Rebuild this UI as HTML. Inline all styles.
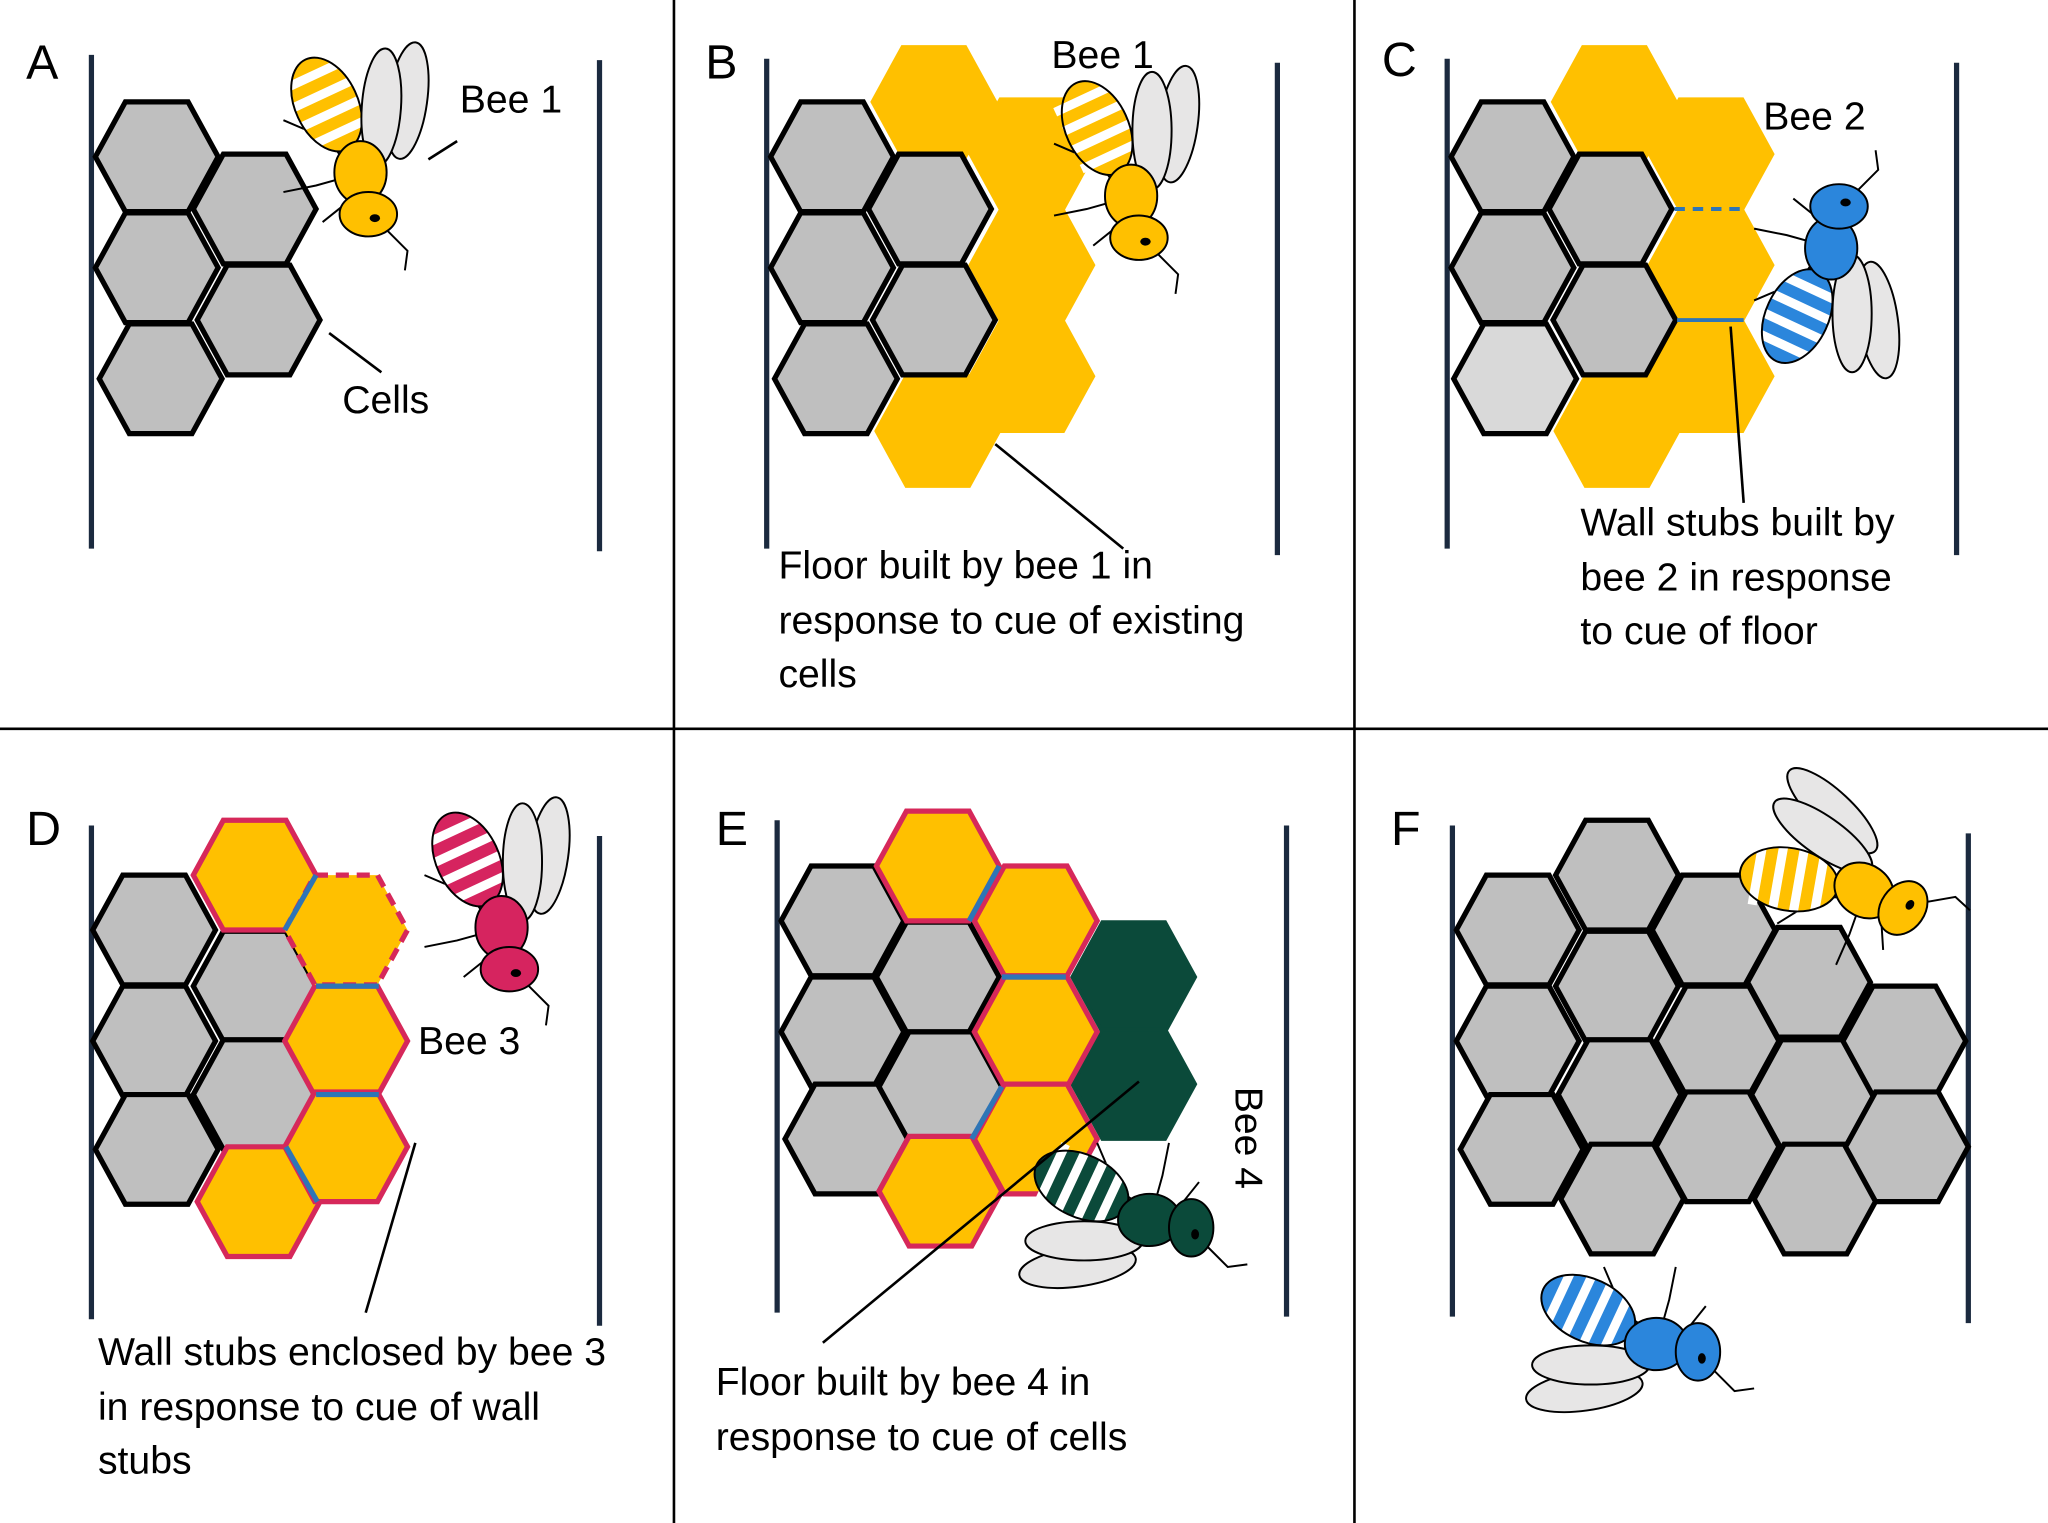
<!DOCTYPE html>
<html><head><style>html,body{margin:0;padding:0;background:#fff}svg{display:block}text{font-family:"Liberation Sans",sans-serif;fill:#000}</style></head>
<body>
<svg width="2048" height="1523" viewBox="0 0 1568 1166" xmlns="http://www.w3.org/2000/svg">
<defs>
<polygon id="h" points="-47,0 -24,-42 24,-42 47,0 24,42 -24,42"/>
<g id="legs" fill="none" stroke="#000" stroke-width="1.5">
<path d="M-8,-8 L-20,-25 L-55,-40"/><path d="M-12,5 L-30,10 L-55,15"/><path d="M-5,22 L-25,38"/><path d="M25,45 L40,60 L38,75"/>
</g>
<g id="stripes"><rect x="-46" y="-80" width="48" height="7" fill="#fff"/><rect x="-46" y="-64" width="48" height="7" fill="#fff"/><rect x="-46" y="-48" width="48" height="7" fill="#fff"/><rect x="-46" y="-32" width="48" height="7" fill="#fff"/></g>
</defs>
<rect width="1568" height="1166" fill="#fff"/>
<g stroke="#000" stroke-width="2">
<line x1="0" y1="558" x2="1568" y2="558"/>
<line x1="516" y1="0" x2="516" y2="1166"/>
<line x1="1037" y1="0" x2="1037" y2="1166"/>
</g>
<g stroke="#1b2a3f" stroke-width="4">
<line x1="70" y1="42" x2="70" y2="420"/><line x1="459" y1="46" x2="459" y2="422"/>
<line x1="587" y1="45" x2="587" y2="420"/><line x1="978" y1="48" x2="978" y2="425"/>
<line x1="1108" y1="45" x2="1108" y2="420"/><line x1="1498" y1="48" x2="1498" y2="425"/>
<line x1="70" y1="632" x2="70" y2="1010"/><line x1="459" y1="640" x2="459" y2="1015"/>
<line x1="595" y1="628" x2="595" y2="1005"/><line x1="985" y1="632" x2="985" y2="1008"/>
<line x1="1112" y1="632" x2="1112" y2="1008"/><line x1="1507" y1="638" x2="1507" y2="1013"/>
</g>
<!-- A -->
<g fill="#bfbfbf" stroke="#000" stroke-width="4">
<use href="#h" x="120" y="120"/><use href="#h" x="120" y="205"/><use href="#h" x="123" y="290"/>
<use href="#h" x="195" y="160"/><use href="#h" x="198" y="245"/>
</g>
<!-- B -->
<g fill="#ffc000" stroke="#ffc000" stroke-width="3">
<use href="#h" x="715" y="78"/><use href="#h" x="718" y="330"/>
<use href="#h" x="790" y="118"/><use href="#h" x="790" y="203"/><use href="#h" x="790" y="288"/>
</g>
<g fill="#bfbfbf" stroke="#000" stroke-width="4">
<use href="#h" x="637" y="120"/><use href="#h" x="637" y="205"/><use href="#h" x="640" y="290"/>
<use href="#h" x="712" y="160"/><use href="#h" x="715" y="245"/>
</g>
<!-- C -->
<g fill="#ffc000" stroke="#ffc000" stroke-width="3">
<use href="#h" x="1236" y="78"/><use href="#h" x="1238" y="330"/>
<use href="#h" x="1310" y="118"/><use href="#h" x="1310" y="203"/><use href="#h" x="1310" y="288"/>
</g>
<g fill="#bfbfbf" stroke="#000" stroke-width="4">
<use href="#h" x="1158" y="120"/><use href="#h" x="1158" y="205"/><use href="#h" x="1160" y="290" fill="#d9d9d9"/>
<use href="#h" x="1233" y="160"/><use href="#h" x="1236" y="245"/>
</g>
<line x1="1282" y1="160" x2="1335" y2="160" stroke="#2e75b6" stroke-width="3" stroke-dasharray="8,6"/>
<line x1="1284" y1="245" x2="1335" y2="245" stroke="#2e75b6" stroke-width="3"/>
<!-- D -->
<g fill="#bfbfbf" stroke="#000" stroke-width="4">
<use href="#h" x="118" y="712"/><use href="#h" x="118" y="797"/><use href="#h" x="120" y="880"/>
<use href="#h" x="195" y="755"/><use href="#h" x="195" y="838"/>
</g>
<g fill="#ffc000" stroke="#d6285a" stroke-width="4">
<use href="#h" x="195" y="670"/><use href="#h" x="198" y="920"/>
<use href="#h" x="265" y="797"/><use href="#h" x="265" y="878"/>
<use href="#h" x="265" y="712" stroke-dasharray="10,6"/>
</g>
<g stroke="#2e75b6" stroke-width="4">
<line x1="242" y1="670" x2="218" y2="712"/><line x1="242" y1="755" x2="290" y2="755"/><line x1="242" y1="838" x2="290" y2="838"/><line x1="219" y1="878" x2="243" y2="920"/>
</g>
<!-- E -->
<g fill="#0b4a3a" stroke="#0b4a3a" stroke-width="3"><use href="#h" x="868" y="748"/><use href="#h" x="868" y="830"/></g>
<g fill="#bfbfbf" stroke="#000" stroke-width="4">
<use href="#h" x="645" y="705"/><use href="#h" x="645" y="790"/><use href="#h" x="648" y="872"/>
<use href="#h" x="718" y="748"/><use href="#h" x="720" y="832"/>
</g>
<g fill="#ffc000" stroke="#d6285a" stroke-width="4">
<use href="#h" x="718" y="663"/><use href="#h" x="720" y="912"/>
<use href="#h" x="793" y="705"/><use href="#h" x="793" y="790"/><use href="#h" x="793" y="872"/>
</g>
<g stroke="#2e75b6" stroke-width="4">
<line x1="765" y1="663" x2="742" y2="705"/><line x1="767" y1="748" x2="816" y2="748"/><line x1="767" y1="832" x2="744" y2="872"/>
</g>
<!-- F -->
<g fill="#bfbfbf" stroke="#000" stroke-width="4">
<use href="#h" x="1162" y="712"/><use href="#h" x="1162" y="797"/><use href="#h" x="1165" y="880"/>
<use href="#h" x="1238" y="670"/><use href="#h" x="1238" y="755"/><use href="#h" x="1240" y="838"/><use href="#h" x="1242" y="918"/>
<use href="#h" x="1312" y="712"/><use href="#h" x="1315" y="797"/><use href="#h" x="1315" y="878"/>
<use href="#h" x="1385" y="752"/><use href="#h" x="1388" y="838"/><use href="#h" x="1390" y="918"/>
<use href="#h" x="1458" y="797"/><use href="#h" x="1460" y="878"/>
</g>

<!-- bees -->
<g transform="translate(272,132)">
<use href="#legs"/>
<ellipse cx="40" cy="-55" rx="15" ry="45" fill="#e7e6e6" stroke="#000" stroke-width="1.5" transform="rotate(8 40 -55)"/>
<g transform="rotate(-25 -22 -52)"><ellipse cx="-22" cy="-52" rx="24" ry="38" fill="#ffc000"/><use href="#stripes"/>
<ellipse cx="-22" cy="-52" rx="24" ry="38" fill="none" stroke="#000" stroke-width="1.5"/></g>
<ellipse cx="20" cy="-50" rx="15" ry="45" fill="#e7e6e6" stroke="#000" stroke-width="1.5" transform="rotate(4 20 -50)"/>
<ellipse cx="4" cy="0" rx="20" ry="24" fill="#ffc000" stroke="#000" stroke-width="1.5"/>
<ellipse cx="10" cy="32" rx="22" ry="17" fill="#ffc000" stroke="#000" stroke-width="1.5"/>
<ellipse cx="15" cy="35" rx="4" ry="3" fill="#000"/>
</g>
<g transform="translate(862,150)">
<use href="#legs"/>
<ellipse cx="40" cy="-55" rx="15" ry="45" fill="#e7e6e6" stroke="#000" stroke-width="1.5" transform="rotate(8 40 -55)"/>
<g transform="rotate(-25 -22 -52)"><ellipse cx="-22" cy="-52" rx="24" ry="38" fill="#ffc000"/><use href="#stripes"/>
<ellipse cx="-22" cy="-52" rx="24" ry="38" fill="none" stroke="#000" stroke-width="1.5"/></g>
<ellipse cx="20" cy="-50" rx="15" ry="45" fill="#e7e6e6" stroke="#000" stroke-width="1.5"/>
<ellipse cx="4" cy="0" rx="20" ry="24" fill="#ffc000" stroke="#000" stroke-width="1.5"/>
<ellipse cx="10" cy="32" rx="22" ry="17" fill="#ffc000" stroke="#000" stroke-width="1.5"/>
<ellipse cx="15" cy="35" rx="4" ry="3" fill="#000"/>
</g>
<g transform="translate(1398,190) scale(1,-1)">
<use href="#legs"/>
<ellipse cx="40" cy="-55" rx="15" ry="45" fill="#e7e6e6" stroke="#000" stroke-width="1.5" transform="rotate(8 40 -55)"/>
<g transform="rotate(-25 -22 -52)"><ellipse cx="-22" cy="-52" rx="24" ry="38" fill="#2b86dc"/><use href="#stripes"/>
<ellipse cx="-22" cy="-52" rx="24" ry="38" fill="none" stroke="#000" stroke-width="1.5"/></g>
<ellipse cx="20" cy="-50" rx="15" ry="45" fill="#e7e6e6" stroke="#000" stroke-width="1.5"/>
<ellipse cx="4" cy="0" rx="20" ry="24" fill="#2b86dc" stroke="#000" stroke-width="1.5"/>
<ellipse cx="10" cy="32" rx="22" ry="17" fill="#2b86dc" stroke="#000" stroke-width="1.5"/>
<ellipse cx="15" cy="35" rx="4" ry="3" fill="#000"/>
</g>
<g transform="translate(380,710)">
<use href="#legs"/>
<ellipse cx="40" cy="-55" rx="15" ry="45" fill="#e7e6e6" stroke="#000" stroke-width="1.5" transform="rotate(8 40 -55)"/>
<g transform="rotate(-25 -22 -52)"><ellipse cx="-22" cy="-52" rx="24" ry="38" fill="#d6245f"/><use href="#stripes"/>
<ellipse cx="-22" cy="-52" rx="24" ry="38" fill="none" stroke="#000" stroke-width="1.5"/></g>
<ellipse cx="20" cy="-50" rx="15" ry="45" fill="#e7e6e6" stroke="#000" stroke-width="1.5"/>
<ellipse cx="4" cy="0" rx="20" ry="24" fill="#d6245f" stroke="#000" stroke-width="1.5"/>
<ellipse cx="10" cy="32" rx="22" ry="17" fill="#d6245f" stroke="#000" stroke-width="1.5"/>
<ellipse cx="15" cy="35" rx="4" ry="3" fill="#000"/>
</g>
<g transform="translate(880,930) rotate(-90) scale(-1,1)">
<use href="#legs"/>
<ellipse cx="40" cy="-55" rx="15" ry="45" fill="#e7e6e6" stroke="#000" stroke-width="1.5" transform="rotate(8 40 -55)"/>
<g transform="rotate(-25 -22 -52)"><ellipse cx="-22" cy="-52" rx="24" ry="38" fill="#0b4a3a"/><use href="#stripes"/>
<ellipse cx="-22" cy="-52" rx="24" ry="38" fill="none" stroke="#000" stroke-width="1.5"/></g>
<ellipse cx="20" cy="-50" rx="15" ry="45" fill="#e7e6e6" stroke="#000" stroke-width="1.5"/>
<ellipse cx="4" cy="0" rx="20" ry="24" fill="#0b4a3a" stroke="#000" stroke-width="1.5"/>
<ellipse cx="10" cy="32" rx="22" ry="17" fill="#0b4a3a" stroke="#000" stroke-width="1.5"/>
<ellipse cx="15" cy="35" rx="4" ry="3" fill="#000"/>
</g>
<g transform="translate(1425,685) rotate(-55)">
<use href="#legs"/>
<ellipse cx="40" cy="-55" rx="15" ry="45" fill="#e7e6e6" stroke="#000" stroke-width="1.5" transform="rotate(8 40 -55)"/>
<g transform="rotate(-25 -22 -52)"><ellipse cx="-22" cy="-52" rx="24" ry="38" fill="#ffc000"/><use href="#stripes"/>
<ellipse cx="-22" cy="-52" rx="24" ry="38" fill="none" stroke="#000" stroke-width="1.5"/></g>
<ellipse cx="20" cy="-50" rx="15" ry="45" fill="#e7e6e6" stroke="#000" stroke-width="1.5"/>
<ellipse cx="4" cy="0" rx="20" ry="24" fill="#ffc000" stroke="#000" stroke-width="1.5"/>
<ellipse cx="10" cy="32" rx="22" ry="17" fill="#ffc000" stroke="#000" stroke-width="1.5"/>
<ellipse cx="15" cy="35" rx="4" ry="3" fill="#000"/>
</g>
<g transform="translate(1268,1025) rotate(-90) scale(-1,1)">
<use href="#legs"/>
<ellipse cx="40" cy="-55" rx="15" ry="45" fill="#e7e6e6" stroke="#000" stroke-width="1.5" transform="rotate(8 40 -55)"/>
<g transform="rotate(-25 -22 -52)"><ellipse cx="-22" cy="-52" rx="24" ry="38" fill="#2b86dc"/><use href="#stripes"/>
<ellipse cx="-22" cy="-52" rx="24" ry="38" fill="none" stroke="#000" stroke-width="1.5"/></g>
<ellipse cx="20" cy="-50" rx="15" ry="45" fill="#e7e6e6" stroke="#000" stroke-width="1.5"/>
<ellipse cx="4" cy="0" rx="20" ry="24" fill="#2b86dc" stroke="#000" stroke-width="1.5"/>
<ellipse cx="10" cy="32" rx="22" ry="17" fill="#2b86dc" stroke="#000" stroke-width="1.5"/>
<ellipse cx="15" cy="35" rx="4" ry="3" fill="#000"/>
</g>

<g stroke="#000" stroke-width="2" fill="none">
<line x1="328" y1="122" x2="350" y2="108"/>
<line x1="252" y1="255" x2="292" y2="285"/>
<line x1="762" y1="340" x2="860" y2="420"/>
<line x1="1325" y1="250" x2="1335" y2="385"/>
<line x1="318" y1="875" x2="280" y2="1005"/>
<line x1="872" y1="828" x2="630" y2="1028"/>
</g>
<g font-size="37">
<text x="20" y="60">A</text><text x="540" y="60">B</text><text x="1058" y="58">C</text>
<text x="20" y="647">D</text><text x="548" y="647">E</text><text x="1065" y="647">F</text>
</g>
<g font-size="30">
<text x="352" y="86">Bee 1</text>
<text x="262" y="316">Cells</text>
<text x="805" y="52">Bee 1</text>
<text x="596" y="443">Floor built by bee 1 in</text>
<text x="596" y="485">response to cue of existing</text>
<text x="596" y="526">cells</text>
<text x="1350" y="99">Bee 2</text>
<text x="1210" y="410">Wall stubs built by</text>
<text x="1210" y="452">bee 2 in response</text>
<text x="1210" y="493">to cue of floor</text>
<text x="320" y="807">Bee 3</text>
<text x="75" y="1045">Wall stubs enclosed by bee 3</text>
<text x="75" y="1087">in response to cue of wall</text>
<text x="75" y="1128">stubs</text>
<text x="548" y="1068">Floor built by bee 4 in</text>
<text x="548" y="1110">response to cue of cells</text>
<text transform="translate(946,832) rotate(90)">Bee 4</text>
</g>
</svg>
</body></html>
